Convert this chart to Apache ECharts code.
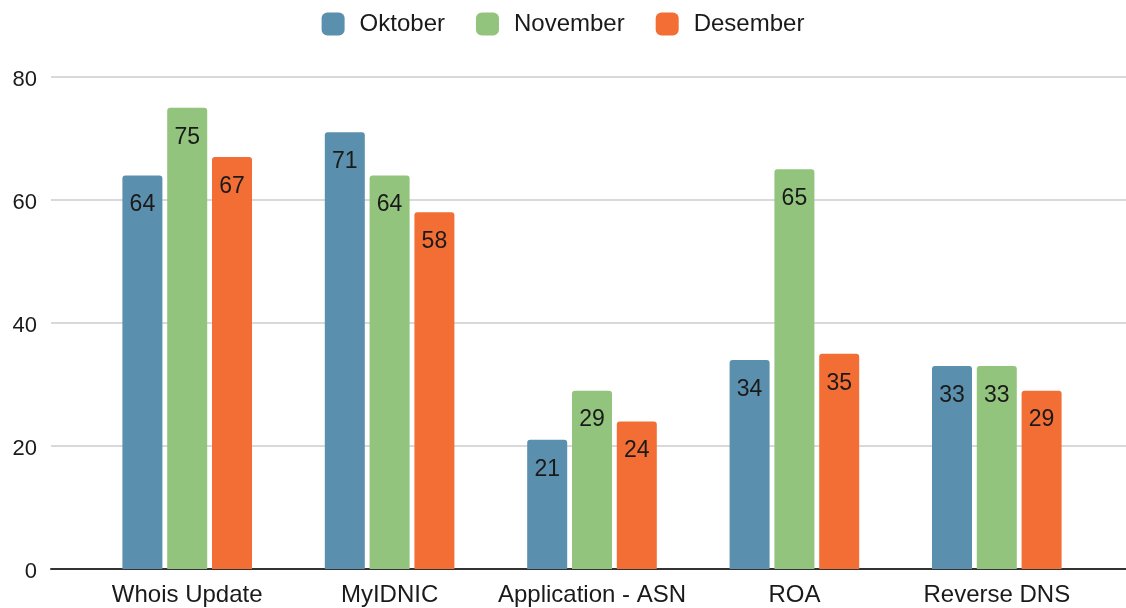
<!DOCTYPE html>
<html>
<head>
<meta charset="utf-8">
<script src="https://cdn.jsdelivr.net/npm/echarts@6/dist/echarts.min.js"></script>
<style>
  html, body { margin: 0; padding: 0; background: #fff; }
  #main { width: 1126px; height: 608px; }
</style>
</head>
<body>
<div id="main"></div>
<script>
var categories = ['Whois Update', 'MyIDNIC', 'Application - ASN', 'ROA', 'Reverse DNS'];
var oktober = [64, 71, 21, 34, 33];
var november = [75, 64, 29, 65, 33];
var desember = [67, 58, 24, 35, 29];
var yTicks = [0, 20, 40, 60, 80];

var fontName = '"Liberation Sans", Arial, sans-serif';

function barSeries(name, data, color) {
    return {
        type: 'bar',
        name: name,
        xAxisIndex: 1,
        yAxisIndex: 1,
        data: data,
        barWidth: 40,
        barGap: '12%',
        itemStyle: { color: color, borderRadius: [3, 3, 0, 0] },
        label: {
            show: true,
            position: 'insideTop',
            distance: 18,
            color: '#1a1a1a',
            fontSize: 23,
            fontFamily: fontName
        }
    };
}

var myChart = echarts.init(document.getElementById('main'));
var option = {
    animation: false,
    textStyle: { fontFamily: fontName },
    legend: {
        top: 7,
        left: 'center',
        itemWidth: 23,
        itemHeight: 23,
        itemGap: 31,
        icon: 'roundRect',
        textStyle: { fontSize: 24, color: '#1a1a1a', fontFamily: fontName, padding: [0, 0, 0, 10] },
        data: ['Oktober', 'November', 'Desember']
    },
    grid: [
        // background grid: gridlines + axis line run full width
        { left: 51, right: 0, top: 77, bottom: 39 },
        // grid holding the bars
        { left: 86, right: 28, top: 77, bottom: 39 }
    ],
    xAxis: [
        {
            gridIndex: 0,
            type: 'value',
            min: 0,
            max: 1,
            axisLabel: { show: false },
            axisTick: { show: false },
            splitLine: { show: false },
            axisLine: { show: true, lineStyle: { color: '#333', width: 2 } }
        },
        {
            gridIndex: 1,
            type: 'category',
            data: categories,
            axisLine: { show: false },
            axisTick: { show: false },
            axisLabel: {
                interval: 0,
                margin: 14,
                fontSize: 24,
                color: '#1a1a1a',
                fontFamily: fontName
            }
        }
    ],
    yAxis: [
        {
            gridIndex: 0,
            type: 'value',
            min: yTicks[0],
            max: yTicks[yTicks.length - 1],
            interval: 20,
            axisLine: { show: false },
            axisTick: { show: false },
            axisLabel: {
                margin: 14,
                formatter: function (v) {
                    return '{n|' + v + '}';
                },
                rich: {
                    n: {
                        fontSize: 22,
                        color: '#1a1a1a',
                        fontFamily: fontName,
                        padding: [6, 0, 0, 0]
                    }
                }
            },
            splitLine: { lineStyle: { color: '#cccccc', width: 1.5 } }
        },
        {
            gridIndex: 1,
            type: 'value',
            min: yTicks[0],
            max: yTicks[yTicks.length - 1],
            interval: 20,
            show: false
        }
    ],
    series: [
        barSeries('Oktober', oktober, '#5b8fae'),
        barSeries('November', november, '#93c47d'),
        barSeries('Desember', desember, '#f26e35')
    ]
};
myChart.setOption(option);
</script>
</body>
</html>
